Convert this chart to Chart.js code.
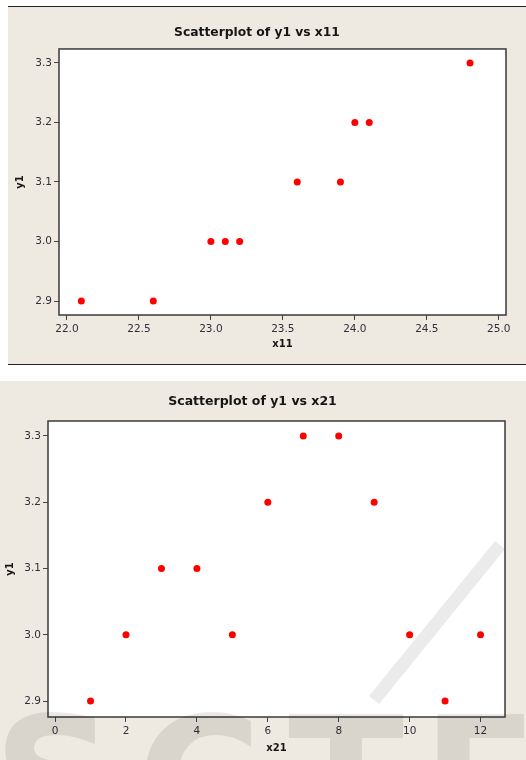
<!DOCTYPE html>
<html>
<head>
<meta charset="utf-8">
<script src="https://cdn.jsdelivr.net/npm/chart.js@4/dist/chart.umd.min.js"></script>
<style>
  html, body { margin: 0; padding: 0; background: #ffffff; }
  body { width: 526px; height: 760px; position: relative; overflow: hidden; }
  #panel1 { position: absolute; left: 8px; top: 6px; width: 518px; height: 357px;
            background: #EEEAE1; border-top: 1px solid #222; border-bottom: 1px solid #222; }
  #panel2 { position: absolute; left: 0px; top: 381px; width: 526px; height: 379px; background: #EEEAE1; }
  canvas { display: block; }
  #wm { position: absolute; left: 0; top: 0; width: 526px; height: 760px; pointer-events: none; overflow: hidden; }
  #wm span { position: absolute; top: 694px; font-family: 'DejaVu Sans'; font-weight: bold;
             font-size: 170px; line-height: 170px; color: rgba(0,0,0,0.085); }
  #wmc { position: absolute; left: 0; top: 0; pointer-events: none; }
</style>
</head>
<body>
<div id="panel1"><canvas id="c1" width="518" height="357"></canvas></div>
<div id="panel2"><canvas id="c2" width="526" height="379"></canvas></div>
<canvas id="wmc" width="526" height="760"></canvas>
<div id="wm"><span style="left:-7px">S</span><span style="left:137px">C</span><span style="left:288px">T</span><span style="left:422px">E</span></div>
<script>
// ---- data ----
const x11 = [22.1, 22.6, 23.0, 23.1, 23.2, 23.6, 23.9, 24.0, 24.1, 24.8];
const y1_top = [2.9, 2.9, 3.0, 3.0, 3.0, 3.1, 3.1, 3.2, 3.2, 3.3];
const x21 = [1, 2, 3, 4, 5, 6, 7, 8, 9, 10, 11, 12];
const y1_bottom = [2.9, 3.0, 3.1, 3.1, 3.0, 3.2, 3.3, 3.3, 3.2, 3.0, 2.9, 3.0];
const xTicksTop = [22.0, 22.5, 23.0, 23.5, 24.0, 24.5, 25.0];
const xTicksBottom = [0, 2, 4, 6, 8, 10, 12];
const yTicks = [2.9, 3.0, 3.1, 3.2, 3.3];
const titleTop = 'Scatterplot of y1 vs x11';
const titleBottom = 'Scatterplot of y1 vs x21';

const plotBg = {
  id: 'plotBg',
  beforeDraw(chart) {
    const { ctx, chartArea: a } = chart;
    ctx.save();
    ctx.fillStyle = '#ffffff';
    ctx.fillRect(a.left, a.top, a.right - a.left, a.bottom - a.top);
    ctx.restore();
  },
  beforeDatasetsDraw(chart) {
    const { ctx, chartArea: a } = chart;
    ctx.save();
    ctx.strokeStyle = '#3a3a3a';
    ctx.lineWidth = 1.5;
    ctx.strokeRect(a.left, a.top, a.right - a.left, a.bottom - a.top);
    ctx.restore();
  }
};

function makeChart(id, xs, ys, cfg) {
  const pts = xs.map((x, i) => ({ x: x, y: ys[i] }));
  const tickFont = { family: 'DejaVu Sans', size: 10.5 };
  const axTitleFont = { family: 'DejaVu Sans', size: 10, weight: 'bold' };
  return new Chart(document.getElementById(id), {
    type: 'scatter',
    data: { datasets: [{ data: pts, backgroundColor: '#ff0000', borderWidth: 0, pointRadius: 3.5, pointHoverRadius: 3.5 }] },
    options: {
      responsive: false,
      animation: false,
      events: [],
      layout: { padding: { left: 0, right: cfg.padRight, top: 0, bottom: 0 } },
      plugins: {
        legend: { display: false },
        tooltip: { enabled: false },
        title: {
          display: true, text: cfg.title, color: '#151515',
          font: { family: 'DejaVu Sans', size: cfg.titleSize, weight: 'bold', lineHeight: 1.2 },
          padding: { top: cfg.titlePadTop, bottom: cfg.titlePadBottom }
        }
      },
      scales: {
        x: {
          type: 'linear', min: cfg.xMin, max: cfg.xMax,
          afterBuildTicks: s => { s.ticks = cfg.xTicks.map(v => ({ value: v })); },
          afterFit: s => { s.height = cfg.xHeight; s.paddingLeft = 0; s.paddingRight = 0; },
          ticks: { callback: v => cfg.xFmt(v), font: tickFont, color: '#2f2f3c', padding: 3, maxRotation: 0, autoSkip: false },
          grid: { display: true, drawOnChartArea: false, drawTicks: true, tickLength: 5, color: '#444', lineWidth: 1 },
          border: { display: false },
          title: { display: true, text: cfg.xTitle, color: '#151515', font: axTitleFont, padding: { top: 0, bottom: cfg.xTitlePad } }
        },
        y: {
          type: 'linear', min: cfg.yMin, max: cfg.yMax,
          afterBuildTicks: s => { s.ticks = yTicks.map(v => ({ value: v })); },
          afterFit: s => { s.width = cfg.yWidth; s.paddingTop = 0; s.paddingBottom = 0; },
          ticks: { callback: v => v.toFixed(1), font: tickFont, color: '#2f2f3c', padding: 2, autoSkip: false },
          grid: { display: true, drawOnChartArea: false, drawTicks: true, tickLength: 5, color: '#444', lineWidth: 1 },
          border: { display: false },
          title: { display: true, text: 'y1', color: '#151515', font: axTitleFont, padding: { top: cfg.yTitlePad, bottom: 0 } }
        }
      }
    },
    plugins: [plotBg]
  });
}

makeChart('c1', x11, y1_top, {
  title: titleTop, titleSize: 12.3, titlePadTop: 18.6, titlePadBottom: 8.6,
  padRight: 20, xMin: 21.945, xMax: 25.05, yMin: 2.8765, yMax: 3.3235,
  xTicks: xTicksTop, xFmt: v => v.toFixed(1), xTitle: 'x11',
  xHeight: 49, xTitlePad: 14, yWidth: 51, yTitlePad: 6
});

makeChart('c2', x21, y1_bottom, {
  title: titleBottom, titleSize: 12.5, titlePadTop: 13.5, titlePadBottom: 11.5,
  padRight: 21, xMin: -0.2, xMax: 12.69, yMin: 2.876, yMax: 3.3226,
  xTicks: xTicksBottom, xFmt: v => String(v), xTitle: 'x21',
  xHeight: 43, xTitlePad: 6, yWidth: 48, yTitlePad: 4
});

// faint watermark slash (decorative)
const w = document.getElementById('wmc').getContext('2d');
w.strokeStyle = 'rgba(0,0,0,0.08)';
w.lineWidth = 13;
w.beginPath();
w.moveTo(500, 545);
w.lineTo(374, 700);
w.stroke();
</script>
</body>
</html>
